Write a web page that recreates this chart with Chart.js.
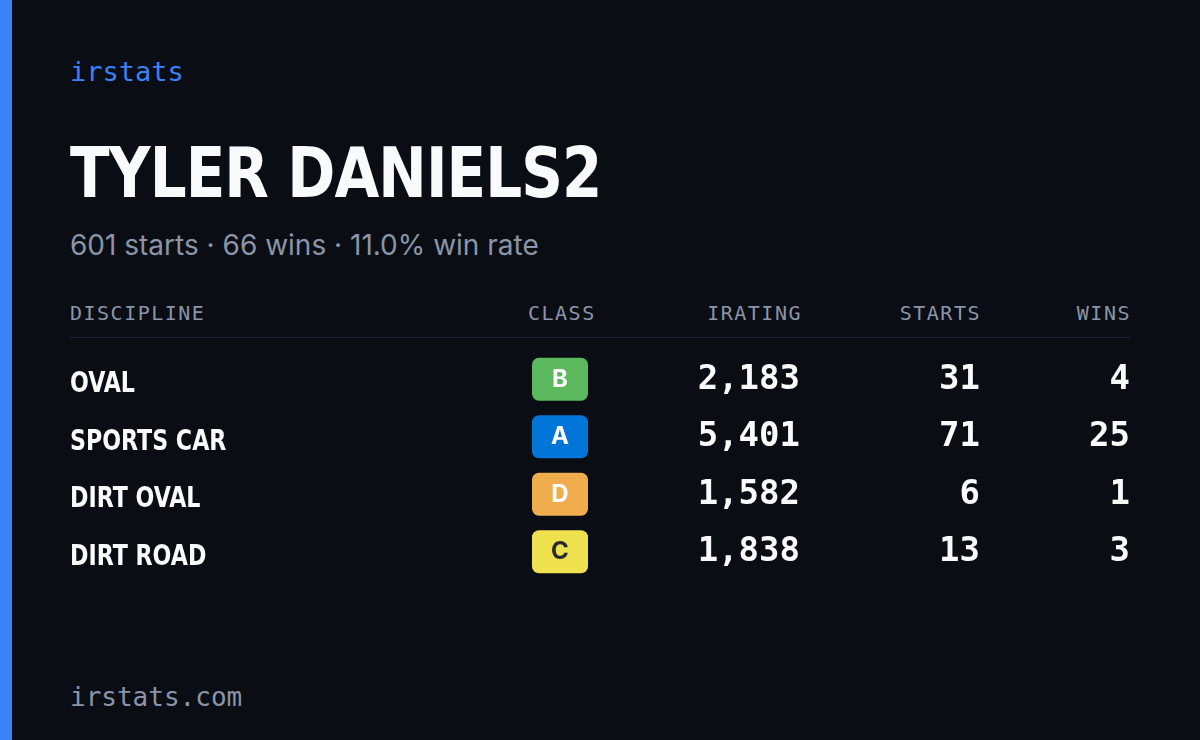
<!DOCTYPE html>
<html><head><meta charset="utf-8">
<script src="https://cdn.jsdelivr.net/npm/chart.js@4"></script>
<style>
body{margin:0;width:1200px;height:740px;background:#0a0d14;overflow:hidden;position:relative;font-family:"DejaVu Sans Mono",monospace}
.bar{position:absolute;left:0;top:0;width:12px;height:740px;background:#3b82f6}
.t{position:absolute;left:70px;white-space:nowrap}
#brand{top:56px;color:#3b82f6;font-size:27px}
#title{top:132px;color:#f8fafc;font:bold 70px "DejaVu Sans Condensed",sans-serif;letter-spacing:-1px;transform:scaleX(0.92);transform-origin:left}
#sub{top:228px;color:#8b95a7;font:28px Inter,"Noto Sans",sans-serif}
.h{position:absolute;top:301px;color:#8b95a7;font-size:20px;letter-spacing:1.5px}
#rule{position:absolute;left:70px;width:1060px;top:337px;height:1px;background:#1c2230}
#foot{top:682px;color:#8b95a7;font-size:26px}
#wrap{position:absolute;left:70px;top:351px;width:1060px;height:230px}
</style></head><body>
<div class="bar"></div>
<div class="t" id="brand">irstats</div>
<div class="t" id="title">TYLER DANIELS2</div>
<div class="t" id="sub">601 starts · 66 wins · 11.0% win rate</div>
<div class="h" style="left:70px">DISCIPLINE</div>
<div class="h" style="left:528px">CLASS</div>
<div class="h" style="right:398px">IRATING</div>
<div class="h" style="right:219px">STARTS</div>
<div class="h" style="right:69px">WINS</div>
<div id="rule"></div>
<div class="t" id="foot">irstats.com</div>
<div id="wrap"><canvas id="chart"></canvas></div>
<script>
const disciplines = ['OVAL', 'SPORTS CAR', 'DIRT OVAL', 'DIRT ROAD'];
const classes = ['B', 'A', 'D', 'C'];
const iratings = [2183, 5401, 1582, 1838];
const starts = [31, 71, 6, 13];
const wins = [4, 25, 1, 3];

const classColors = {A: '#0275d8', B: '#5cb85c', C: '#f0e14e', D: '#f0ad4e'};
const classText = {A: '#ffffff', B: '#ffffff', C: '#2a2a2a', D: '#ffffff'};
// x anchors of columns inside the table area
const colX = {name: 0, cls: 490, ir: 730, st: 910, wn: 1060};

const tablePlugin = {
    id: 'table',
    afterDatasetsDraw(chart) {
        const ctx = chart.ctx, xs = chart.scales.x, ys = chart.scales.y;
        ctx.save();
        ctx.textBaseline = 'middle';
        disciplines.forEach((d, i) => {
            const y = ys.getPixelForValue(i);
            ctx.fillStyle = '#f8fafc';
            ctx.textAlign = 'left';
            ctx.font = 'bold 29px "DejaVu Sans Condensed", sans-serif';
            ctx.save();
            ctx.translate(xs.getPixelForValue(colX.name), y + 5);
            ctx.scale(0.85, 1);
            ctx.fillText(d, 0, 0);
            ctx.restore();

            const bx = xs.getPixelForValue(colX.cls);
            ctx.fillStyle = classColors[classes[i]];
            ctx.beginPath();
            ctx.roundRect(bx - 28, y - 22, 56, 43, 7);
            ctx.fill();
            ctx.fillStyle = classText[classes[i]];
            ctx.textAlign = 'center';
            ctx.font = 'bold 24px Inter, sans-serif';
            ctx.fillText(classes[i], bx, y);

            ctx.fillStyle = '#f8fafc';
            ctx.textAlign = 'right';
            ctx.font = 'bold 34px "DejaVu Sans Mono", monospace';
            ctx.fillText(iratings[i].toLocaleString('en-US'), xs.getPixelForValue(colX.ir), y);
            ctx.fillText(String(starts[i]), xs.getPixelForValue(colX.st), y);
            ctx.fillText(String(wins[i]), xs.getPixelForValue(colX.wn), y);
        });
        ctx.restore();
    }
};

new Chart(document.getElementById('chart'), {
    type: 'scatter',
    data: {
        labels: disciplines,
        datasets: [{
            data: disciplines.map((d, i) => ({x: colX.name, y: d})),
            pointRadius: 0
        }]
    },
    options: {
        responsive: true,
        maintainAspectRatio: false,
        animation: false,
        events: [],
        layout: {padding: 0},
        plugins: {legend: {display: false}, tooltip: {enabled: false}},
        scales: {
            x: {type: 'linear', min: 0, max: 1060, display: false},
            y: {type: 'category', labels: disciplines, offset: true, display: false}
        }
    },
    plugins: [tablePlugin]
});
</script>
</body></html>
